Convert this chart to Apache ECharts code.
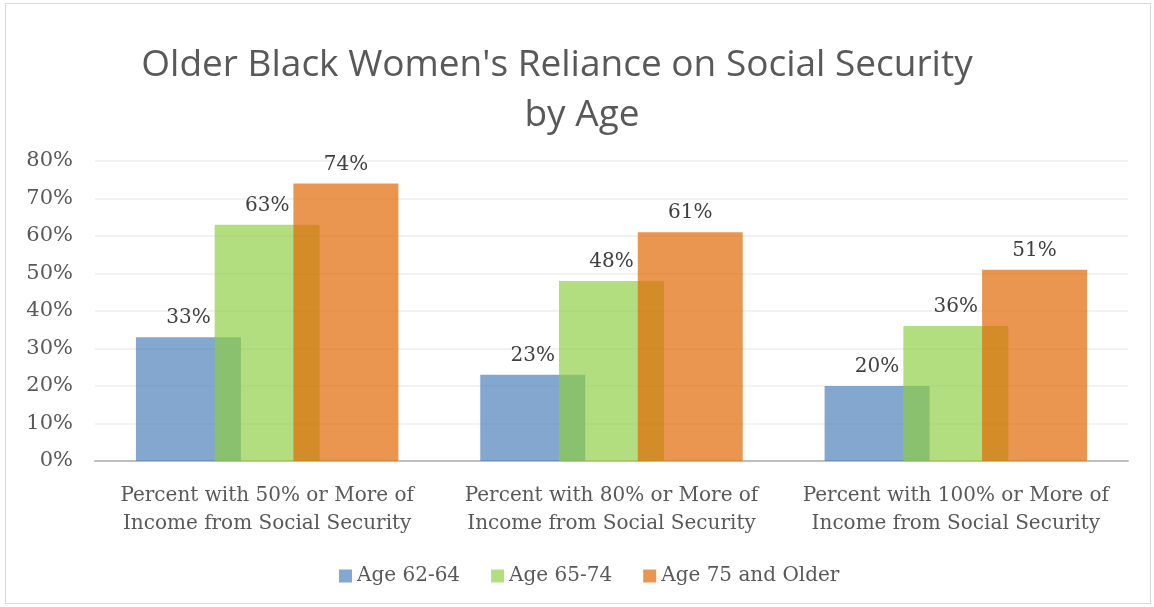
<!DOCTYPE html>
<html><head><meta charset="utf-8">
<script src="https://cdn.jsdelivr.net/npm/echarts@6/dist/echarts.min.js"></script>
<style>html,body{margin:0;padding:0;background:#fff}#c{width:1154px;height:607px}
#frame{position:absolute;left:5px;top:3px;width:1146px;height:601px;border:1px solid #d9d9d9;box-sizing:border-box;pointer-events:none}</style>
</head><body><div id="c"></div><div id="frame"></div>
<script>
const categories = ["Percent with 50% or More of\nIncome from Social Security","Percent with 80% or More of\nIncome from Social Security","Percent with 100% or More of\nIncome from Social Security"];
const age6264 = [33, 23, 20];
const age6574 = [63, 48, 36];
const age75plus = [74, 61, 51];
const seriesNames = ["Age 62-64","Age 65-74","Age 75 and Older"];
const yTicks = [0,10,20,30,40,50,60,70,80];
const titleLines = ["Older Black Women's Reliance on Social Security", "by Age"];

const serif = "'DejaVu Serif', 'Liberation Serif', serif";
const colors = ['rgba(70,124,184,0.67)','rgba(142,206,64,0.67)','rgba(226,103,2,0.69)'];
const chart = echarts.init(document.getElementById('c'));
function s(name, data, i){
  return {name, type:'bar', data, barWidth:105, barGap:'-25%',
    itemStyle:{color:colors[i]},
    label:{show:true, position:'top', formatter:'{c}%', fontFamily:serif, fontSize:20, color:'#404040', distance:9}};
}
const tStyle = {fontFamily:"'Open Sans', 'Liberation Sans', sans-serif", fontWeight:'normal', fontSize:37, color:'#595959', lineHeight:50};
chart.setOption({
  animation:false,
  title:[
    {text:titleLines[0], left:552, textAlign:'center', top:35, textStyle:tStyle},
    {text:titleLines[1], left:577, textAlign:'center', top:85, textStyle:tStyle}
  ],
  legend:{bottom:16, left:334, itemWidth:13, itemHeight:13, itemGap:31, icon:'rect',
    textStyle:{fontFamily:serif, fontSize:20, color:'#595959'}},
  grid:{left:95, right:26, top:161, bottom:146},
  xAxis:{type:'category', data:categories,
    axisLine:{lineStyle:{color:'#bfbfbf', width:2}}, axisTick:{show:false},
    axisLabel:{interval:0, fontFamily:serif, fontSize:20, color:'#595959', lineHeight:28, margin:21}},
  yAxis:{type:'value', min:0, max:80, interval:10,
    axisLabel:{formatter:v=>yTicks.includes(v)?v+'%':'', fontFamily:serif, fontSize:21, color:'#595959', margin:22},
    axisLine:{show:false}, axisTick:{show:false},
    splitLine:{lineStyle:{color:'#eeeeee', width:1.5}}},
  series:[s(seriesNames[0],age6264,0), s(seriesNames[1],age6574,1), s(seriesNames[2],age75plus,2)]
});
</script></body></html>
